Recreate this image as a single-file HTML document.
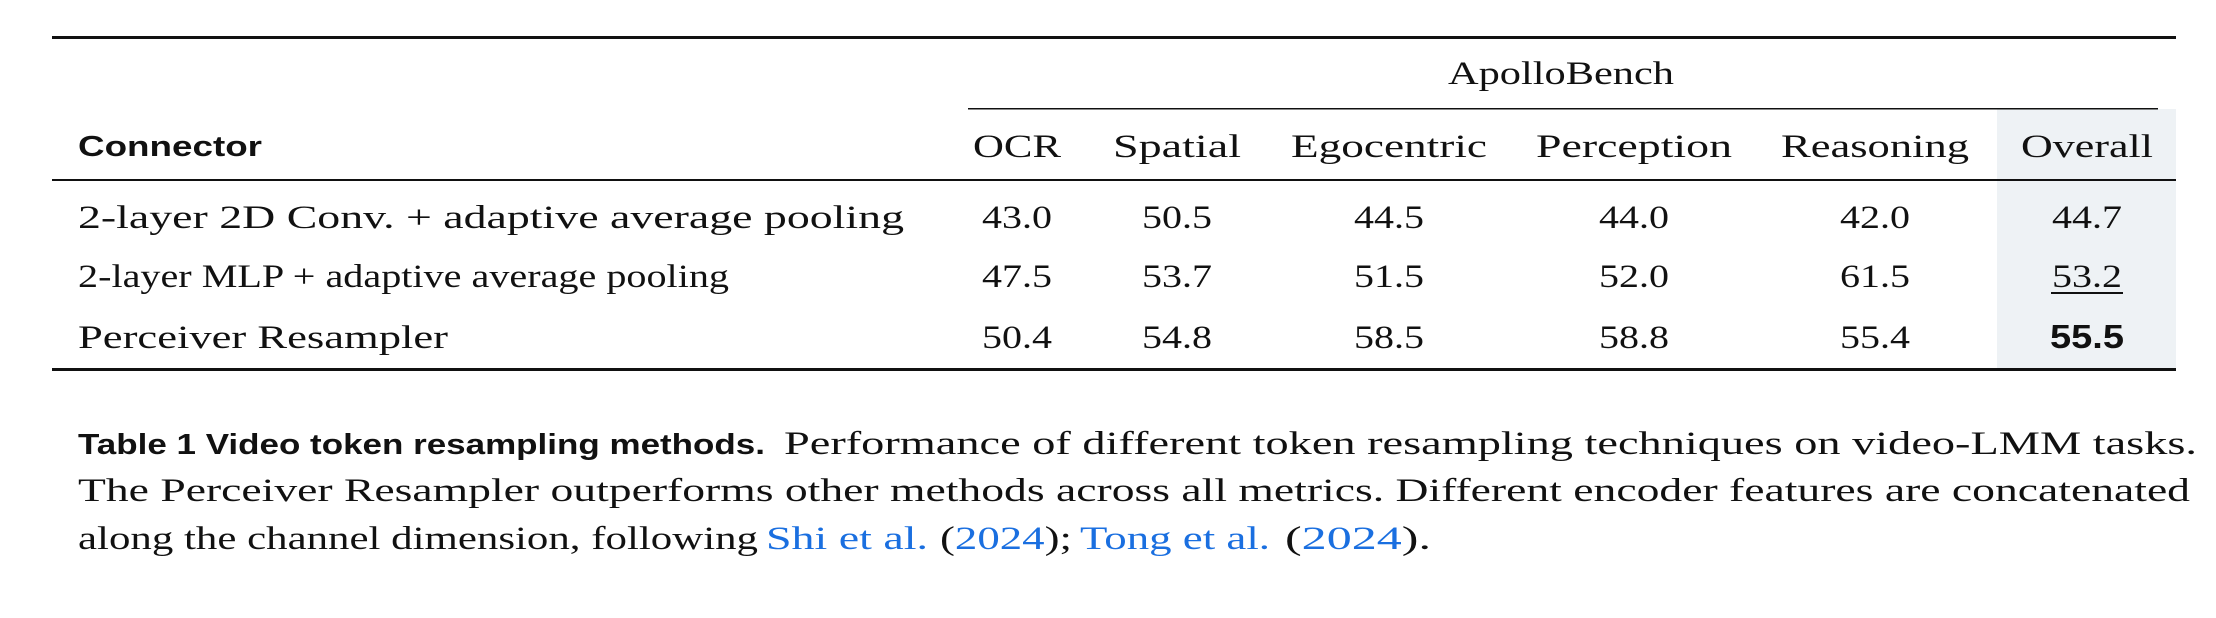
<!DOCTYPE html>
<html><head><meta charset="utf-8">
<style>
html,body{margin:0;padding:0;background:#fff;}
svg{display:block;}
text{font-family:"Liberation Serif",serif;fill:#111;}
.sans{font-family:"Liberation Sans",sans-serif;font-weight:bold;}
</style></head>
<body>
<svg id="tbl" width="2216" height="618" viewBox="0 0 2216 618" xmlns="http://www.w3.org/2000/svg">
  <rect x="1997" y="109" width="179" height="261" fill="#eef2f5"/>
  <rect x="52" y="36" width="2124" height="3" fill="#111"/>
  <text x="1561" y="84" font-size="33" text-anchor="middle" textLength="226" lengthAdjust="spacingAndGlyphs">ApolloBench</text>
  <rect x="968" y="108" width="1190" height="1.5" fill="#111"/>
  <text class="sans" x="78" y="156" font-size="29" textLength="184" lengthAdjust="spacingAndGlyphs">Connector</text>
  <rect x="52" y="179" width="2124" height="2" fill="#111"/>
  <rect x="52" y="368" width="2124" height="3" fill="#111"/>
  <g id="cells"></g>
  <g>
    <text class="sans" x="78" y="454" font-size="29" textLength="687" lengthAdjust="spacingAndGlyphs">Table 1  Video token resampling methods.</text>
    <text x="784" y="454" font-size="33" textLength="1413" lengthAdjust="spacingAndGlyphs">Performance of different token resampling techniques on video-LMM tasks.</text>
    <text x="78" y="501" font-size="33" textLength="2112" lengthAdjust="spacingAndGlyphs">The Perceiver Resampler outperforms other methods across all metrics. Different encoder features are concatenated</text>
    <text x="78" y="549" font-size="33" textLength="680" lengthAdjust="spacingAndGlyphs">along the channel dimension, following</text>
    <text x="766" y="549" font-size="33" style="fill:#1a6fe0" textLength="162" lengthAdjust="spacingAndGlyphs">Shi et al.</text>
    <text x="940" y="549" font-size="33" textLength="132" lengthAdjust="spacingAndGlyphs">(<tspan style="fill:#1a6fe0">2024</tspan>);</text>
    <text x="1080" y="549" font-size="33" style="fill:#1a6fe0" textLength="190" lengthAdjust="spacingAndGlyphs">Tong et al.</text>
    <text x="1285" y="549" font-size="33" textLength="146" lengthAdjust="spacingAndGlyphs">(<tspan style="fill:#1a6fe0">2024</tspan>).</text>
  </g>
</svg>
<script>
const columns = ["OCR","Spatial","Egocentric","Perception","Reasoning","Overall"];
const methods = ["2-layer 2D Conv. + adaptive average pooling","2-layer MLP + adaptive average pooling","Perceiver Resampler"];
const ocr = [43.0,47.5,50.4];
const spatial = [50.5,53.7,54.8];
const egocentric = [44.5,51.5,58.5];
const perception = [44.0,52.0,58.8];
const reasoning = [42.0,61.5,55.4];
const overall = [44.7,53.2,55.5];

const series = [ocr,spatial,egocentric,perception,reasoning,overall];
const colX = [1017,1177,1389,1634,1875,2087];
const colW = [88,128,196,196,188,132];
const rowY = [228,287,348];
const methodW = [826,651,370];
const NS = "http://www.w3.org/2000/svg";
const g = document.getElementById("cells");
function txt(x,y,s,anchor,w){
  const t=document.createElementNS(NS,"text");
  t.setAttribute("x",x);t.setAttribute("y",y);t.setAttribute("font-size","33");
  t.setAttribute("font-family","Liberation Serif, serif");
  t.setAttribute("text-anchor",anchor);
  if(w){t.setAttribute("textLength",w);t.setAttribute("lengthAdjust","spacingAndGlyphs");}
  t.textContent=s;g.appendChild(t);return t;
}
columns.forEach((c,i)=>{
  const t=txt(colX[i],157,c,"middle",colW[i]);
  
  
});
methods.forEach((m,r)=>{
  const t=txt(78,rowY[r],m,"start",methodW[r]);
  
  
  series.forEach((s,ci)=>{
    const best = Math.max(...s), sorted=[...s].sort((a,b)=>b-a);
    const v=s[r].toFixed(1);
    const isOverall = ci===columns.length-1;
    const c=txt(colX[ci],rowY[r],v,"middle",70);
    
    
    if(isOverall && s[r]===best){
      c.setAttribute("class","sans");
      c.setAttribute("font-family","Liberation Sans, sans-serif");
      c.setAttribute("font-size","33");
      c.setAttribute("textLength","74");
    } else if(isOverall && s[r]===sorted[1]){
      const u=document.createElementNS(NS,"rect");
      u.setAttribute("x",colX[ci]-36);u.setAttribute("y",rowY[r]+5);
      u.setAttribute("width",72);u.setAttribute("height",2);u.setAttribute("fill","#111");
      
      
      g.appendChild(u);
    }
  });
});
</script>
</body></html>
